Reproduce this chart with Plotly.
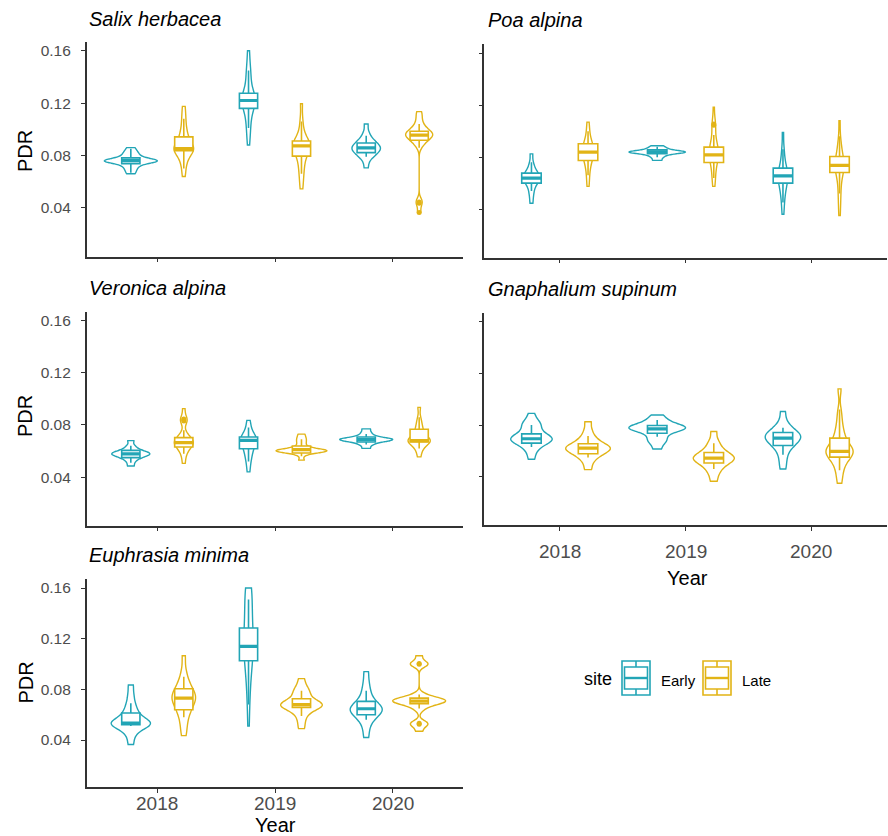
import numpy as np
import plotly.graph_objects as go

# ---------------- data ----------------
years = ["2018", "2019", "2020"]
sites = ["Early", "Late"]
species = ["Salix herbacea", "Poa alpina", "Veronica alpina",
           "Gnaphalium supinum", "Euphrasia minima"]
y_ticks = [0.04, 0.08, 0.12, 0.16]
y_tick_text = ["0.04", "0.08", "0.12", "0.16"]

# group order in every list: 2018 Early, 2018 Late, 2019 Early, 2019 Late, 2020 Early, 2020 Late
salix_pdr = [
    [0.0660, 0.0685, 0.0705, 0.0722, 0.0735, 0.0745, 0.0752, 0.0757, 0.0759, 0.0760,
     0.0761, 0.0763, 0.0768, 0.0778, 0.0790, 0.0803, 0.0818, 0.0835, 0.0860],
    [0.0640, 0.0700, 0.0745, 0.0775, 0.0800, 0.0818, 0.0832, 0.0842, 0.0848, 0.0852,
     0.0855, 0.0860, 0.0870, 0.0885, 0.0905, 0.0925, 0.0950, 0.0975, 0.1010, 0.1060,
     0.1110, 0.1175],
    [0.0880, 0.0960, 0.1010, 0.1060, 0.1100, 0.1140, 0.1160, 0.1180, 0.1195, 0.1210,
     0.1220, 0.1228, 0.1240, 0.1255, 0.1270, 0.1285, 0.1320, 0.1370, 0.1410, 0.1450,
     0.1510, 0.1600],
    [0.0545, 0.0610, 0.0660, 0.0700, 0.0740, 0.0770, 0.0795, 0.0815, 0.0835, 0.0850,
     0.0862, 0.0870, 0.0876, 0.0882, 0.0890, 0.0900, 0.0915, 0.0935, 0.0965, 0.1010,
     0.1080, 0.1195],
    [0.0705, 0.0760, 0.0790, 0.0805, 0.0815, 0.0825, 0.0835, 0.0845, 0.0852, 0.0858,
     0.0865, 0.0873, 0.0882, 0.0893, 0.0905, 0.0920, 0.0940, 0.0975, 0.1040],
    [0.0365, 0.0438, 0.0450, 0.0870, 0.0895, 0.0912, 0.0925, 0.0937, 0.0945, 0.0952,
     0.0957, 0.0962, 0.0968, 0.0975, 0.0985, 0.0995, 0.1010, 0.1030, 0.1060, 0.1100,
     0.1135],
]
# [lower whisker, q1, median, q3, upper whisker]
salix_box = [
    [0.0668, 0.0738, 0.0760, 0.0782, 0.0852],
    [0.0700, 0.0836, 0.0853, 0.0942, 0.1080],
    [0.1010, 0.1160, 0.1220, 0.1275, 0.1450],
    [0.0660, 0.0795, 0.0873, 0.0911, 0.1060],
    [0.0790, 0.0822, 0.0858, 0.0895, 0.0950],
    [0.0860, 0.0916, 0.0955, 0.0985, 0.1040],
]
salix_outliers = [[], [], [], [], [], [0.0365, 0.0435, 0.0445]]

poa_pdr = [
    [0.0445, 0.0500, 0.0540, 0.0570, 0.0595, 0.0610, 0.0622, 0.0632, 0.0638, 0.0645,
     0.0655, 0.0665, 0.0678, 0.0695, 0.0720, 0.0755, 0.0825],
    [0.0575, 0.0640, 0.0690, 0.0730, 0.0760, 0.0780, 0.0800, 0.0815, 0.0828, 0.0838,
     0.0848, 0.0860, 0.0875, 0.0890, 0.0905, 0.0925, 0.0960, 0.1010, 0.1070],
    [0.0775, 0.0795, 0.0810, 0.0820, 0.0828, 0.0832, 0.0836, 0.0838, 0.0840, 0.0842,
     0.0845, 0.0850, 0.0856, 0.0865, 0.0875, 0.0888],
    [0.0575, 0.0620, 0.0660, 0.0700, 0.0735, 0.0760, 0.0780, 0.0795, 0.0808, 0.0818,
     0.0828, 0.0840, 0.0855, 0.0870, 0.0880, 0.0900, 0.0930, 0.0965, 0.1040, 0.1050,
     0.1058, 0.1185],
    [0.0360, 0.0430, 0.0480, 0.0520, 0.0550, 0.0575, 0.0598, 0.0615, 0.0630, 0.0645,
     0.0656, 0.0665, 0.0678, 0.0695, 0.0712, 0.0735, 0.0770, 0.0820, 0.0870, 0.0990],
    [0.0350, 0.0440, 0.0500, 0.0560, 0.0610, 0.0650, 0.0680, 0.0700, 0.0715, 0.0728,
     0.0736, 0.0745, 0.0760, 0.0780, 0.0800, 0.0825, 0.0860, 0.0890, 0.0950, 0.1080],
]
poa_box = [
    [0.0540, 0.0600, 0.0638, 0.0677, 0.0760],
    [0.0660, 0.0774, 0.0838, 0.0903, 0.1000],
    [0.0800, 0.0826, 0.0840, 0.0856, 0.0880],
    [0.0640, 0.0759, 0.0818, 0.0877, 0.0970],
    [0.0450, 0.0600, 0.0656, 0.0715, 0.0860],
    [0.0520, 0.0682, 0.0736, 0.0805, 0.0960],
]
poa_outliers = [[], [], [], [0.1045, 0.1055], [], []]

veronica_pdr = [
    [0.0485, 0.0518, 0.0540, 0.0552, 0.0562, 0.0569, 0.0574, 0.0578, 0.0582, 0.0588,
     0.0595, 0.0603, 0.0618, 0.0640, 0.0680],
    [0.0505, 0.0560, 0.0595, 0.0615, 0.0630, 0.0643, 0.0652, 0.0660, 0.0665, 0.0670,
     0.0678, 0.0688, 0.0700, 0.0715, 0.0740, 0.0830, 0.0838, 0.0845, 0.0925],
    [0.0440, 0.0500, 0.0540, 0.0570, 0.0595, 0.0615, 0.0635, 0.0655, 0.0668, 0.0678,
     0.0685, 0.0692, 0.0700, 0.0710, 0.0725, 0.0750, 0.0790, 0.0835],
    [0.0530, 0.0570, 0.0587, 0.0595, 0.0598, 0.0600, 0.0601, 0.0602, 0.0603, 0.0605,
     0.0608, 0.0613, 0.0624, 0.0643, 0.0665, 0.0685, 0.0705, 0.0730],
    [0.0620, 0.0645, 0.0660, 0.0670, 0.0676, 0.0681, 0.0685, 0.0688, 0.0690, 0.0693,
     0.0697, 0.0703, 0.0712, 0.0725, 0.0745, 0.0770],
    [0.0555, 0.0600, 0.0625, 0.0645, 0.0660, 0.0670, 0.0675, 0.0678, 0.0680, 0.0683,
     0.0690, 0.0700, 0.0715, 0.0735, 0.0760, 0.0780, 0.0810, 0.0850, 0.0935],
]
veronica_box = [
    [0.0510, 0.0549, 0.0578, 0.0605, 0.0640],
    [0.0580, 0.0631, 0.0664, 0.0703, 0.0760],
    [0.0520, 0.0618, 0.0682, 0.0708, 0.0780],
    [0.0560, 0.0585, 0.0610, 0.0638, 0.0690],
    [0.0650, 0.0669, 0.0688, 0.0708, 0.0730],
    [0.0620, 0.0669, 0.0680, 0.0767, 0.0860],
]
veronica_outliers = [[], [0.0830, 0.0840, 0.0845], [], [], [], []]

gnaphalium_pdr = [
    [0.0535, 0.0590, 0.0625, 0.0650, 0.0665, 0.0675, 0.0682, 0.0688, 0.0693, 0.0698,
     0.0705, 0.0715, 0.0730, 0.0750, 0.0780, 0.0800, 0.0815, 0.0830, 0.0890],
    [0.0455, 0.0510, 0.0545, 0.0565, 0.0580, 0.0592, 0.0602, 0.0612, 0.0620, 0.0625,
     0.0632, 0.0640, 0.0652, 0.0668, 0.0690, 0.0715, 0.0760, 0.0825],
    [0.0615, 0.0660, 0.0680, 0.0700, 0.0725, 0.0745, 0.0760, 0.0768, 0.0772, 0.0776,
     0.0780, 0.0785, 0.0792, 0.0800, 0.0812, 0.0830, 0.0850, 0.0878],
    [0.0365, 0.0420, 0.0455, 0.0480, 0.0500, 0.0512, 0.0525, 0.0535, 0.0542, 0.0548,
     0.0555, 0.0565, 0.0578, 0.0595, 0.0615, 0.0645, 0.0680, 0.0750],
    [0.0460, 0.0520, 0.0570, 0.0610, 0.0635, 0.0650, 0.0665, 0.0680, 0.0693, 0.0700,
     0.0708, 0.0718, 0.0728, 0.0740, 0.0752, 0.0765, 0.0790, 0.0830, 0.0905],
    [0.0350, 0.0420, 0.0470, 0.0510, 0.0540, 0.0560, 0.0575, 0.0585, 0.0592, 0.0598,
     0.0605, 0.0615, 0.0630, 0.0655, 0.0690, 0.0720, 0.0760, 0.0820, 0.0900, 0.1080],
]
gnaphalium_box = [
    [0.0630, 0.0660, 0.0694, 0.0732, 0.0800],
    [0.0550, 0.0578, 0.0622, 0.0655, 0.0715],
    [0.0710, 0.0737, 0.0771, 0.0797, 0.0840],
    [0.0460, 0.0506, 0.0544, 0.0588, 0.0660],
    [0.0570, 0.0642, 0.0699, 0.0742, 0.0780],
    [0.0450, 0.0552, 0.0596, 0.0699, 0.0920],
]
gnaphalium_outliers = [[], [], [], [], [], []]

euphrasia_pdr = [
    [0.0365, 0.0430, 0.0470, 0.0495, 0.0510, 0.0520, 0.0526, 0.0530, 0.0534, 0.0538,
     0.0545, 0.0560, 0.0580, 0.0605, 0.0625, 0.0660, 0.0700, 0.0760, 0.0835],
    [0.0435, 0.0500, 0.0560, 0.0605, 0.0635, 0.0660, 0.0685, 0.0705, 0.0720, 0.0730,
     0.0740, 0.0755, 0.0770, 0.0790, 0.0810, 0.0840, 0.0880, 0.0940, 0.1065],
    [0.0510, 0.0680, 0.0790, 0.0870, 0.0940, 0.0990, 0.1030, 0.1070, 0.1100, 0.1125,
     0.1140, 0.1160, 0.1190, 0.1220, 0.1260, 0.1290, 0.1330, 0.1380, 0.1430, 0.1480,
     0.1530, 0.1570, 0.1585, 0.1595, 0.1600],
    [0.0490, 0.0545, 0.0590, 0.0620, 0.0640, 0.0655, 0.0663, 0.0670, 0.0675, 0.0679,
     0.0683, 0.0690, 0.0700, 0.0715, 0.0735, 0.0760, 0.0780, 0.0800, 0.0830, 0.0885],
    [0.0420, 0.0490, 0.0540, 0.0570, 0.0590, 0.0605, 0.0618, 0.0630, 0.0640, 0.0647,
     0.0655, 0.0665, 0.0680, 0.0700, 0.0720, 0.0760, 0.0800, 0.0860, 0.0940],
    [0.0470, 0.0520, 0.0530, 0.0535, 0.0640, 0.0670, 0.0685, 0.0695, 0.0700, 0.0705,
     0.0708, 0.0711, 0.0715, 0.0720, 0.0728, 0.0738, 0.0760, 0.0995, 0.1000, 0.1005,
     0.1065],
]
euphrasia_box = [
    [0.0510, 0.0521, 0.0534, 0.0613, 0.0690],
    [0.0580, 0.0639, 0.0731, 0.0805, 0.0900],
    [0.0680, 0.1026, 0.1140, 0.1284, 0.1510],
    [0.0590, 0.0658, 0.0679, 0.0726, 0.0790],
    [0.0560, 0.0600, 0.0647, 0.0705, 0.0790],
    [0.0650, 0.0687, 0.0708, 0.0731, 0.0760],
]
euphrasia_outliers = [[], [], [], [], [], [0.0525, 0.0532, 0.0998, 0.1005]]

pdr_data = [salix_pdr, poa_pdr, veronica_pdr, gnaphalium_pdr, euphrasia_pdr]
box_data = [salix_box, poa_box, veronica_box, gnaphalium_box, euphrasia_box]
outlier_data = [salix_outliers, poa_outliers, veronica_outliers,
                gnaphalium_outliers, euphrasia_outliers]

# ---------------- styles / layout ----------------
W, H = 888, 836
TEAL = "#22A5B6"
GOLD = "#E2B416"
site_colors = [TEAL, GOLD]
FONT = "Liberation Sans, Arial, Helvetica, sans-serif"
AXIS_COL = "#333333"
TICK_TXT = "#4D4D4D"
DODGE = 0.225
VIOLIN_W = 0.45
BOX_W = 0.155
Y_RANGE = [0.0027, 0.1669]

# panel boxes in pixels: (left, right, top, bottom)
panels = [
    (86.7, 463.3, 41.7, 256.7),
    (484.3, 886.7, 44.3, 257.5),
    (86.7, 463.3, 311.7, 525.7),
    (484.3, 886.7, 312.7, 525.0),
    (86.7, 463.3, 579.3, 787.3),
]


def px_x(px):
    return px / W


def px_y(py):
    return 1 - py / H


def nrd0(v):
    v = np.asarray(v, dtype=float)
    sd = v.std(ddof=1)
    q75, q25 = np.percentile(v, [75, 25])
    lo = min(sd, (q75 - q25) / 1.34)
    if lo <= 0:
        lo = sd
    return 0.9 * lo * len(v) ** -0.2


def max_density(v, bw):
    v = np.asarray(v, dtype=float)
    g = np.linspace(v.min(), v.max(), 512)
    d = np.exp(-0.5 * ((g[:, None] - v[None, :]) / bw) ** 2).sum(1)
    d /= len(v) * bw * np.sqrt(2 * np.pi)
    return d.max()


# density statistics (ggplot "area" scaling is per panel)
bw_all = [[nrd0(v) for v in pdr_data[p]] for p in range(5)]
md_all = [[max_density(v, b) for v, b in zip(pdr_data[p], bw_all[p])] for p in range(5)]

fig = go.Figure()

for p in range(5):
    sfx = "" if p == 0 else str(p + 1)
    xa, ya = "x" + sfx, "y" + sfx
    panel_max = max(md_all[p])
    # violins
    for g in range(6):
        yi, si = divmod(g, 2)
        pos = yi + 1 + (-DODGE if si == 0 else DODGE)
        vals = pdr_data[p][g]
        fig.add_trace(go.Violin(
            x=[pos] * len(vals), y=vals, xaxis=xa, yaxis=ya,
            width=VIOLIN_W * md_all[p][g] / panel_max,
            spanmode="hard", bandwidth=bw_all[p][g], side="both",
            line=dict(color=site_colors[si], width=1.4),
            fillcolor="rgba(0,0,0,0)", points=False,
            box_visible=False, meanline_visible=False,
            hoverinfo="skip", showlegend=False))
    # boxes (one trace per site)
    for si in range(2):
        idx = [yi * 2 + si for yi in range(3)]
        xs = [yi + 1 + (-DODGE if si == 0 else DODGE) for yi in range(3)]
        st = [box_data[p][i] for i in idx]
        fig.add_trace(go.Box(
            x=xs, xaxis=xa, yaxis=ya,
            lowerfence=[s[0] for s in st], q1=[s[1] for s in st],
            median=[s[2] for s in st], q3=[s[3] for s in st],
            upperfence=[s[4] for s in st],
            width=BOX_W, whiskerwidth=0, boxpoints=False,
            fillcolor="white", line=dict(color=site_colors[si], width=1.6),
            hoverinfo="skip", showlegend=False))
        # thicker median bars (ggplot fatten)
        mx, my = [], []
        for x, s in zip(xs, st):
            mx += [x - BOX_W / 2, x + BOX_W / 2, None]
            my += [s[2], s[2], None]
        fig.add_trace(go.Scatter(
            x=mx, y=my, xaxis=xa, yaxis=ya, mode="lines",
            line=dict(color=site_colors[si], width=3.2),
            hoverinfo="skip", showlegend=False))
        # outliers
        ox, oy = [], []
        for x, i in zip(xs, idx):
            for o in outlier_data[p][i]:
                ox.append(x)
                oy.append(o)
        if ox:
            fig.add_trace(go.Scatter(
                x=ox, y=oy, xaxis=xa, yaxis=ya, mode="markers",
                marker=dict(color=site_colors[si], size=5),
                hoverinfo="skip", showlegend=False))

layout = dict(
    width=W, height=H, margin=dict(l=0, r=0, t=0, b=0),
    paper_bgcolor="white", plot_bgcolor="white",
    font=dict(family=FONT, color="black"),
    showlegend=False, violinmode="overlay", boxmode="overlay",
)
for p in range(5):
    x0, x1, yt, yb = panels[p]
    sfx = "" if p == 0 else str(p + 1)
    left_col = p in (0, 2, 4)
    layout["xaxis" + sfx] = dict(
        domain=[px_x(x0), px_x(x1)], anchor="y" + sfx, type="linear",
        range=[0.4, 3.6], tickvals=[1, 2, 3], ticktext=years,
        showticklabels=False, ticks="outside", ticklen=4, tickwidth=1.3,
        tickcolor=AXIS_COL, showline=True, linecolor=AXIS_COL, linewidth=1.5,
        showgrid=False, zeroline=False, fixedrange=True)
    layout["yaxis" + sfx] = dict(
        domain=[px_y(yb), px_y(yt)], anchor="x" + sfx, type="linear",
        range=Y_RANGE, tickvals=y_ticks, ticktext=y_tick_text,
        showticklabels=left_col, ticks="outside", ticklen=4, tickwidth=1.3,
        tickcolor=AXIS_COL, showline=True, linecolor=AXIS_COL, linewidth=1.5,
        showgrid=False, zeroline=False,
        tickfont=dict(size=15.5, color=TICK_TXT, family=FONT),
        ticklabelstandoff=7, fixedrange=True)

annotations = []
# x tick labels of the bottom panels (Gnaphalium and Euphrasia)
for xref, ly in [("x4", 551.7), ("x5", 803.5)]:
    for i, yr in enumerate(years):
        annotations.append(dict(
            text=yr, x=i + 1, y=px_y(ly), xref=xref, yref="paper",
            xanchor="center", yanchor="middle", showarrow=False,
            font=dict(size=19, color=TICK_TXT, family=FONT)))

title_pos = [(87, 19.5), (486, 20), (87, 288), (486, 289), (87, 555)]
for name, (tx, ty) in zip(species, title_pos):
    annotations.append(dict(
        text="<i>" + name + "</i>", x=px_x(tx), y=px_y(ty), xref="paper", yref="paper",
        xanchor="left", yanchor="middle", showarrow=False,
        font=dict(size=20, color="black", family=FONT)))
for py in (151, 416, 682.5):
    annotations.append(dict(
        text="PDR", x=px_x(25), y=px_y(py), xref="paper", yref="paper",
        xanchor="center", yanchor="middle", textangle=-90, showarrow=False,
        font=dict(size=20, color="black", family=FONT)))
for (tx, ty) in [(687, 577.5), (275, 825)]:
    annotations.append(dict(
        text="Year", x=px_x(tx), y=px_y(ty), xref="paper", yref="paper",
        xanchor="center", yanchor="middle", showarrow=False,
        font=dict(size=20, color="black", family=FONT)))

# legend (drawn manually, ggplot style)
annotations.append(dict(text="site", x=px_x(582), y=px_y(679), xref="paper", yref="paper",
                        xanchor="left", yanchor="middle", showarrow=False,
                        font=dict(size=18, color="black", family=FONT)))
shapes = []
for si, (kx, lab) in enumerate([(622, "Early"), (703, "Late")]):
    c = site_colors[si]
    k0, k1, kt, kb = kx, kx + 28, 661, 695
    cx = (k0 + k1) / 2
    shapes.append(dict(type="rect", xref="paper", yref="paper",
                       x0=px_x(k0), x1=px_x(k1), y0=px_y(kb), y1=px_y(kt),
                       line=dict(color=c, width=1.6), fillcolor="white"))
    shapes.append(dict(type="rect", xref="paper", yref="paper",
                       x0=px_x(k0 + 2.5), x1=px_x(k1 - 2.5), y0=px_y(689), y1=px_y(667),
                       line=dict(color=c, width=1.6), fillcolor="white"))
    shapes.append(dict(type="line", xref="paper", yref="paper",
                       x0=px_x(k0 + 2.5), x1=px_x(k1 - 2.5), y0=px_y(678), y1=px_y(678),
                       line=dict(color=c, width=2.4)))
    shapes.append(dict(type="line", xref="paper", yref="paper",
                       x0=px_x(cx), x1=px_x(cx), y0=px_y(kt), y1=px_y(667),
                       line=dict(color=c, width=1.6)))
    shapes.append(dict(type="line", xref="paper", yref="paper",
                       x0=px_x(cx), x1=px_x(cx), y0=px_y(689), y1=px_y(kb),
                       line=dict(color=c, width=1.6)))
    annotations.append(dict(text=lab, x=px_x(k1 + 9), y=px_y(680), xref="paper", yref="paper",
                            xanchor="left", yanchor="middle", showarrow=False,
                            font=dict(size=15, color="black", family=FONT)))

layout["annotations"] = annotations
layout["shapes"] = shapes
fig.update_layout(**layout)

fig.write_html("out.html")
